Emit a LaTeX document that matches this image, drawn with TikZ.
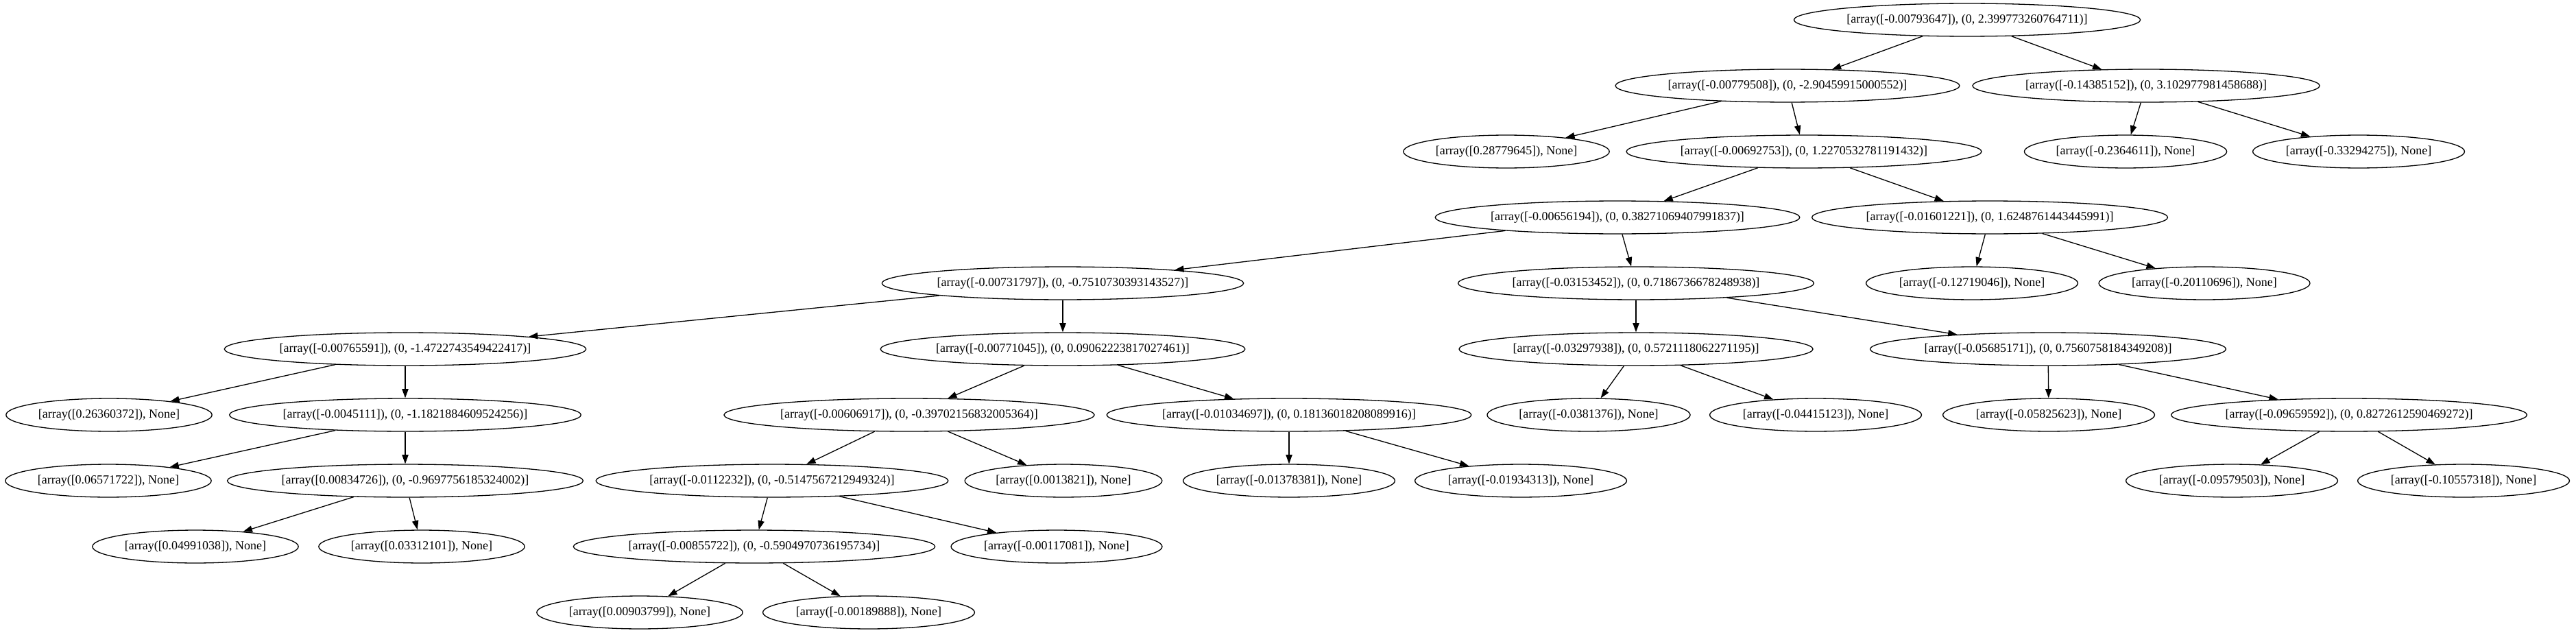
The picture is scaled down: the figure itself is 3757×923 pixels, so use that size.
\documentclass[tikz,border=0pt]{standalone}
\usepackage{fontspec}
\setmainfont{Liberation Serif}
\usetikzlibrary{arrows.meta,shapes.geometric}
\begin{document}
\begin{tikzpicture}[x=1pt,y=-1pt,
  tnode/.style={ellipse,draw,line width=1.3pt,inner xsep=3pt,inner ysep=8.2pt,
    text height=13pt,text depth=4.5pt,
    font=\fontsize{18}{22}\selectfont},
  edge/.style={draw,line width=1.3pt,-{Triangle[length=13.3pt,width=9.3pt]}}]
\fill[white] (0,0) rectangle (3757,923);
\useasboundingbox (0,0) rectangle (3757,923);
% level 0
\node[tnode] (R) at (2869,29) {[array([-0.00793647]), (0, 2.399773260764711)]};
% level 1
\node[tnode] (A) at (2607,125) {[array([-0.00779508]), (0, -2.90459915000552)]};
\node[tnode] (B) at (3130,125) {[array([-0.14385152]), (0, 3.102977981458688)]};
% level 2
\node[tnode] (A1) at (2197,221) {[array([0.28779645]), None]};
\node[tnode] (A2) at (2631,221) {[array([-0.00692753]), (0, 1.2270532781191432)]};
\node[tnode] (B1) at (3100,221) {[array([-0.2364611]), None]};
\node[tnode] (B2) at (3440,221) {[array([-0.33294275]), None]};
% level 3
\node[tnode] (C) at (2359,317) {[array([-0.00656194]), (0, 0.38271069407991837)]};
\node[tnode] (D) at (2902,317) {[array([-0.01601221]), (0, 1.6248761443445991)]};
% level 4
\node[tnode] (E) at (1550,413) {[array([-0.00731797]), (0, -0.7510730393143527)]};
\node[tnode] (F) at (2386,413) {[array([-0.03153452]), (0, 0.7186736678248938)]};
\node[tnode] (D1) at (2876,413) {[array([-0.12719046]), None]};
\node[tnode] (D2) at (3215,413) {[array([-0.20110696]), None]};
% level 5
\node[tnode] (G) at (591,509) {[array([-0.00765591]), (0, -1.4722743549422417)]};
\node[tnode] (H) at (1550,509) {[array([-0.00771045]), (0, 0.09062223817027461)]};
\node[tnode] (I) at (2386,509) {[array([-0.03297938]), (0, 0.5721118062271195)]};
\node[tnode] (J) at (2987,509) {[array([-0.05685171]), (0, 0.7560758184349208)]};
% level 6
\node[tnode] (G1) at (159,605) {[array([0.26360372]), None]};
\node[tnode] (G2) at (591,605) {[array([-0.0045111]), (0, -1.1821884609524256)]};
\node[tnode] (H1) at (1326,605) {[array([-0.00606917]), (0, -0.39702156832005364)]};
\node[tnode] (H2) at (1880,605) {[array([-0.01034697]), (0, 0.18136018208089916)]};
\node[tnode] (I1) at (2317,605) {[array([-0.0381376]), None]};
\node[tnode] (I2) at (2648,605) {[array([-0.04415123]), None]};
\node[tnode] (J1) at (2988,605) {[array([-0.05825623]), None]};
\node[tnode] (J2) at (3426,605) {[array([-0.09659592]), (0, 0.8272612590469272)]};
% level 7
\node[tnode] (G21) at (158,701) {[array([0.06571722]), None]};
\node[tnode] (G22) at (591,701) {[array([0.00834726]), (0, -0.9697756185324002)]};
\node[tnode] (H11) at (1126,701) {[array([-0.0112232]), (0, -0.5147567212949324)]};
\node[tnode] (H12) at (1551,701) {[array([0.0013821]), None]};
\node[tnode] (H21) at (1880,701) {[array([-0.01378381]), None]};
\node[tnode] (H22) at (2218,701) {[array([-0.01934313]), None]};
\node[tnode] (J21) at (3255,701) {[array([-0.09579503]), None]};
\node[tnode] (J22) at (3593,701) {[array([-0.10557318]), None]};
% level 8
\node[tnode] (G221) at (285,797) {[array([0.04991038]), None]};
\node[tnode] (G222) at (615,797) {[array([0.03312101]), None]};
\node[tnode] (H111) at (1100,797) {[array([-0.00855722]), (0, -0.5904970736195734)]};
\node[tnode] (H112) at (1541,797) {[array([-0.00117081]), None]};
% level 9
\node[tnode] (H1111) at (933,893) {[array([0.00903799]), None]};
\node[tnode] (H1112) at (1267,893) {[array([-0.00189888]), None]};
% edges
\foreach \p/\c in {R/A,R/B,A/A1,A/A2,B/B1,B/B2,A2/C,A2/D,C/E,C/F,D/D1,D/D2,
  E/G,E/H,F/I,F/J,G/G1,G/G2,H/H1,H/H2,I/I1,I/I2,J/J1,J/J2,
  G2/G21,G2/G22,H1/H11,H1/H12,H2/H21,H2/H22,J2/J21,J2/J22,
  G22/G221,G22/G222,H11/H111,H11/H112,H111/H1111,H111/H1112}
  \draw[edge] (\p) -- (\c);
\end{tikzpicture}
\end{document}
